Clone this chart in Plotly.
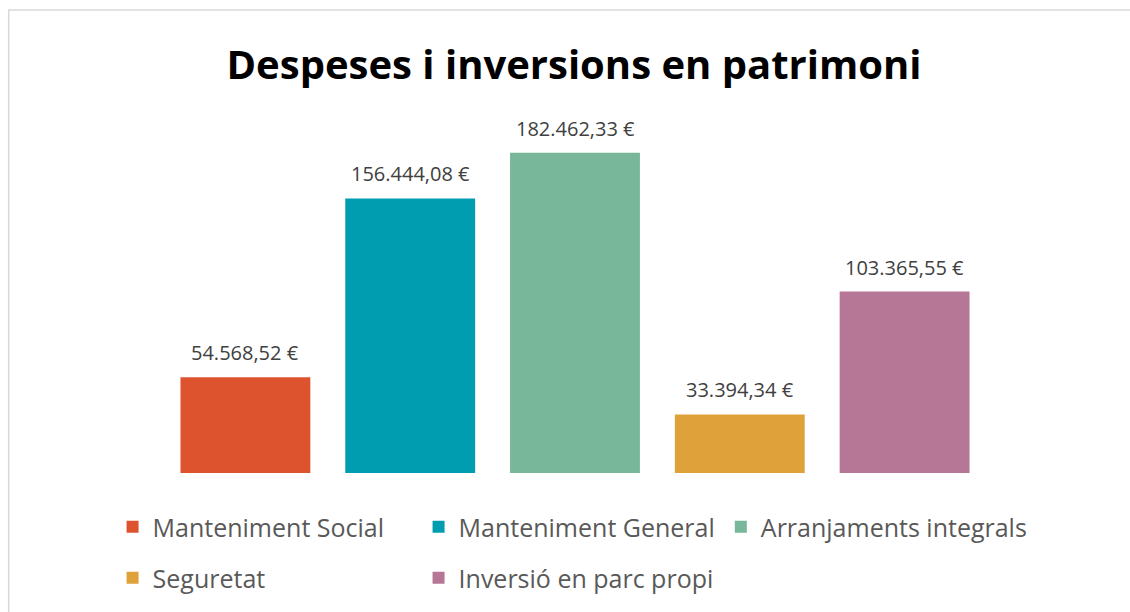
import plotly.graph_objects as go

categories = ["Manteniment Social", "Manteniment General", "Arranjaments integrals",
              "Seguretat", "Inversió en parc propi"]
values = [54568.52, 156444.08, 182462.33, 33394.34, 103365.55]
labels = ["54.568,52 €", "156.444,08 €", "182.462,33 €", "33.394,34 €", "103.365,55 €"]
colors = ["#DD532E", "#009CAF", "#78B799", "#DFA139", "#B67695"]
legend_of = ["legend", "legend", "legend3", "legend2", "legend2"]

FONT = "Open Sans"
W, H = 1130, 612
L, R, T, B = 162.5, 142.5, 122, 139
pw, ph = W - L - R, H - T - B

fig = go.Figure()
for i, (c, v, col) in enumerate(zip(categories, values, colors)):
    fig.add_trace(go.Bar(
        x=[c], y=[v], name=c, marker=dict(color=col, line=dict(width=0)),
        legend=legend_of[i],
        hoverinfo="skip",
    ))
    fig.add_annotation(x=c, y=v, text=labels[i], showarrow=False,
                       yanchor="bottom", yshift=9,
                       font=dict(family=FONT, size=20, color="#404040"))

# chart area border
fig.add_shape(type="rect", xref="paper", yref="paper",
              x0=(8 - L) / pw, x1=(1145 - L) / pw,
              y0=(H - B - 630) / ph, y1=(H - B - 10) / ph,
              line=dict(color="#D9D9D9", width=1.5), fillcolor="rgba(0,0,0,0)",
              layer="below")

legend_common = dict(orientation="h", xref="paper", yref="paper",
                     xanchor="left", yanchor="middle",
                     font=dict(family=FONT, size=25, color="#595959"),
                     bgcolor="rgba(0,0,0,0)", itemclick=False, itemdoubleclick=False)

x0 = 112
fig.update_layout(
    width=W, height=H,
    margin=dict(l=L, r=R, t=T, b=B, autoexpand=False),
    paper_bgcolor="white", plot_bgcolor="white",
    barmode="overlay", bargap=0.212,
    title=dict(text="<b>Despeses i inversions en patrimoni</b>",
               x=574 / W, xanchor="center", y=1 - 65 / H, yanchor="middle",
               font=dict(family=FONT, size=40, color="#000000")),
    xaxis=dict(visible=False, range=[-0.5, 4.5], categoryorder="array", categoryarray=categories),
    yaxis=dict(visible=False, range=[0, 200000]),
    legend=dict(x=(x0 - L) / pw, y=(H - B - 527) / ph,
                entrywidth=261, entrywidthmode="pixels", **legend_common),
    legend2=dict(x=(x0 - L) / pw, y=(H - B - 578) / ph,
                 entrywidth=261, entrywidthmode="pixels", **legend_common),
    legend3=dict(x=(x0 + 609 - L) / pw, y=(H - B - 527) / ph, **legend_common),
    showlegend=True,
)

fig.write_html("out.html", config={"displayModeBar": False},
               post_script="document.body.style.margin='0';")
